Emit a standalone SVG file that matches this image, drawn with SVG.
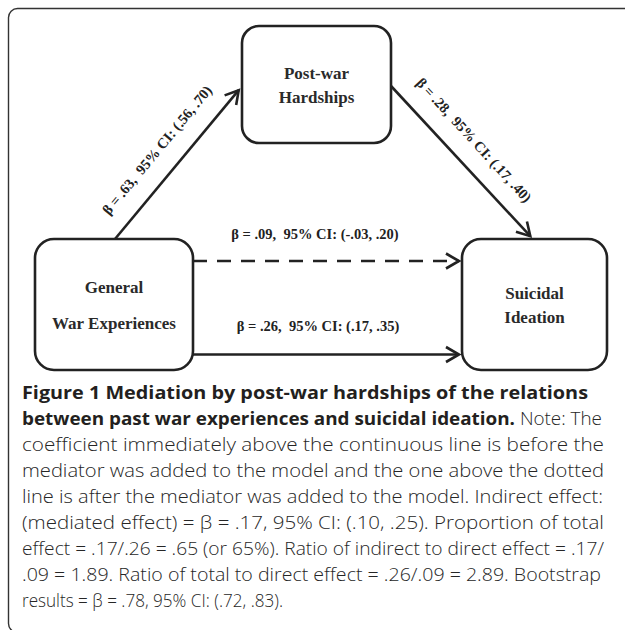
<svg xmlns="http://www.w3.org/2000/svg" width="625" height="630" viewBox="0 0 625 630">
<style>
.frame{fill:none;stroke:#333;stroke-width:1.4}
.node{fill:#fff;stroke:#222;stroke-width:2.6}
.nlab{font-family:"Liberation Serif","Times New Roman",serif;font-weight:bold;font-size:17px;fill:#2a2a2a;text-anchor:middle}
.elab{font-family:"Liberation Serif","Times New Roman",serif;font-weight:bold;font-size:14.5px;fill:#222;text-anchor:middle}
.edge{fill:none;stroke:#222;stroke-width:2.6}
.dash{stroke-dasharray:14 10}
.cap{font-family:"Open Sans","Noto Sans","Liberation Sans",sans-serif;font-size:18px;fill:#262626;font-weight:300}
.capb{font-weight:bold;fill:#231f20}
</style>
<defs>
<marker id="chev" markerUnits="userSpaceOnUse" viewBox="-16 -10 20 20" markerWidth="20" markerHeight="20" refX="0" refY="0" orient="auto">
<path d="M-13,-7.5 L0,0 L-13,7.5" fill="none" stroke="#222" stroke-width="2.6" stroke-linejoin="miter"/>
</marker>
</defs>
<rect class="frame" x="8.5" y="8.5" width="640" height="624" rx="9"/>
<g id="connectors">
<line class="edge" x1="115" y1="239" x2="238.7" y2="90.2" marker-end="url(#chev)"/>
<line class="edge" x1="391" y1="86" x2="530.3" y2="236.2" marker-end="url(#chev)"/>
<line class="edge dash" x1="193" y1="261" x2="459" y2="261" marker-end="url(#chev)"/>
<line class="edge" x1="193" y1="354.5" x2="459" y2="354.5" marker-end="url(#chev)"/>
<text class="elab" transform="translate(157,150) rotate(-50.3)" x="0" y="5">β = .63,&#160; 95% CI: (.56, .70)</text>
<text class="elab" transform="translate(474,140) rotate(47.5)" x="0" y="5">β = .28,&#160; 95% CI: (.17, .40)</text>
<text class="elab" x="315" y="239">β = .09,&#160; 95% CI: (-.03, .20)</text>
<text class="elab" x="318" y="331">β = .26,&#160; 95% CI: (.17, .35)</text>
</g>
<g id="node-postwar">
<rect class="node" x="242" y="26" width="149" height="117" rx="17"/>
<text class="nlab" x="316.5" y="79">Post-war</text>
<text class="nlab" x="316.5" y="103">Hardships</text>
</g>
<g id="node-general">
<rect class="node" x="35" y="239" width="158" height="131" rx="19"/>
<text class="nlab" x="114" y="293">General</text>
<text class="nlab" x="114" y="329">War Experiences</text>
</g>
<g id="node-suicidal">
<rect class="node" x="462" y="239" width="145" height="131" rx="19"/>
<text class="nlab" x="534.5" y="299">Suicidal</text>
<text class="nlab" x="534.5" y="323">Ideation</text>
</g>
<g id="caption" class="cap">
<text x="22" y="399" textLength="566" lengthAdjust="spacingAndGlyphs" class="capb">Figure 1 Mediation by post-war hardships of the relations</text>
<text x="22" y="425" textLength="580" lengthAdjust="spacingAndGlyphs"><tspan class="capb">between past war experiences and suicidal ideation.</tspan> Note: The</text>
<text x="22" y="451" textLength="582" lengthAdjust="spacingAndGlyphs">coefficient immediately above the continuous line is before the</text>
<text x="22" y="477" textLength="582" lengthAdjust="spacingAndGlyphs">mediator was added to the model and the one above the dotted</text>
<text x="22" y="503" textLength="581" lengthAdjust="spacingAndGlyphs">line is after the mediator was added to the model. Indirect effect:</text>
<text x="22" y="529" textLength="582" lengthAdjust="spacingAndGlyphs">(mediated effect) = β = .17, 95% CI: (.10, .25). Proportion of total</text>
<text x="22" y="555" textLength="582" lengthAdjust="spacingAndGlyphs">effect = .17/.26 = .65 (or 65%). Ratio of indirect to direct effect = .17/</text>
<text x="22" y="581" textLength="579" lengthAdjust="spacingAndGlyphs">.09 = 1.89. Ratio of total to direct effect = .26/.09 = 2.89. Bootstrap</text>
<text x="22" y="607" textLength="261" lengthAdjust="spacingAndGlyphs">results = β = .78, 95% CI: (.72, .83).</text>
</g>
</svg>
